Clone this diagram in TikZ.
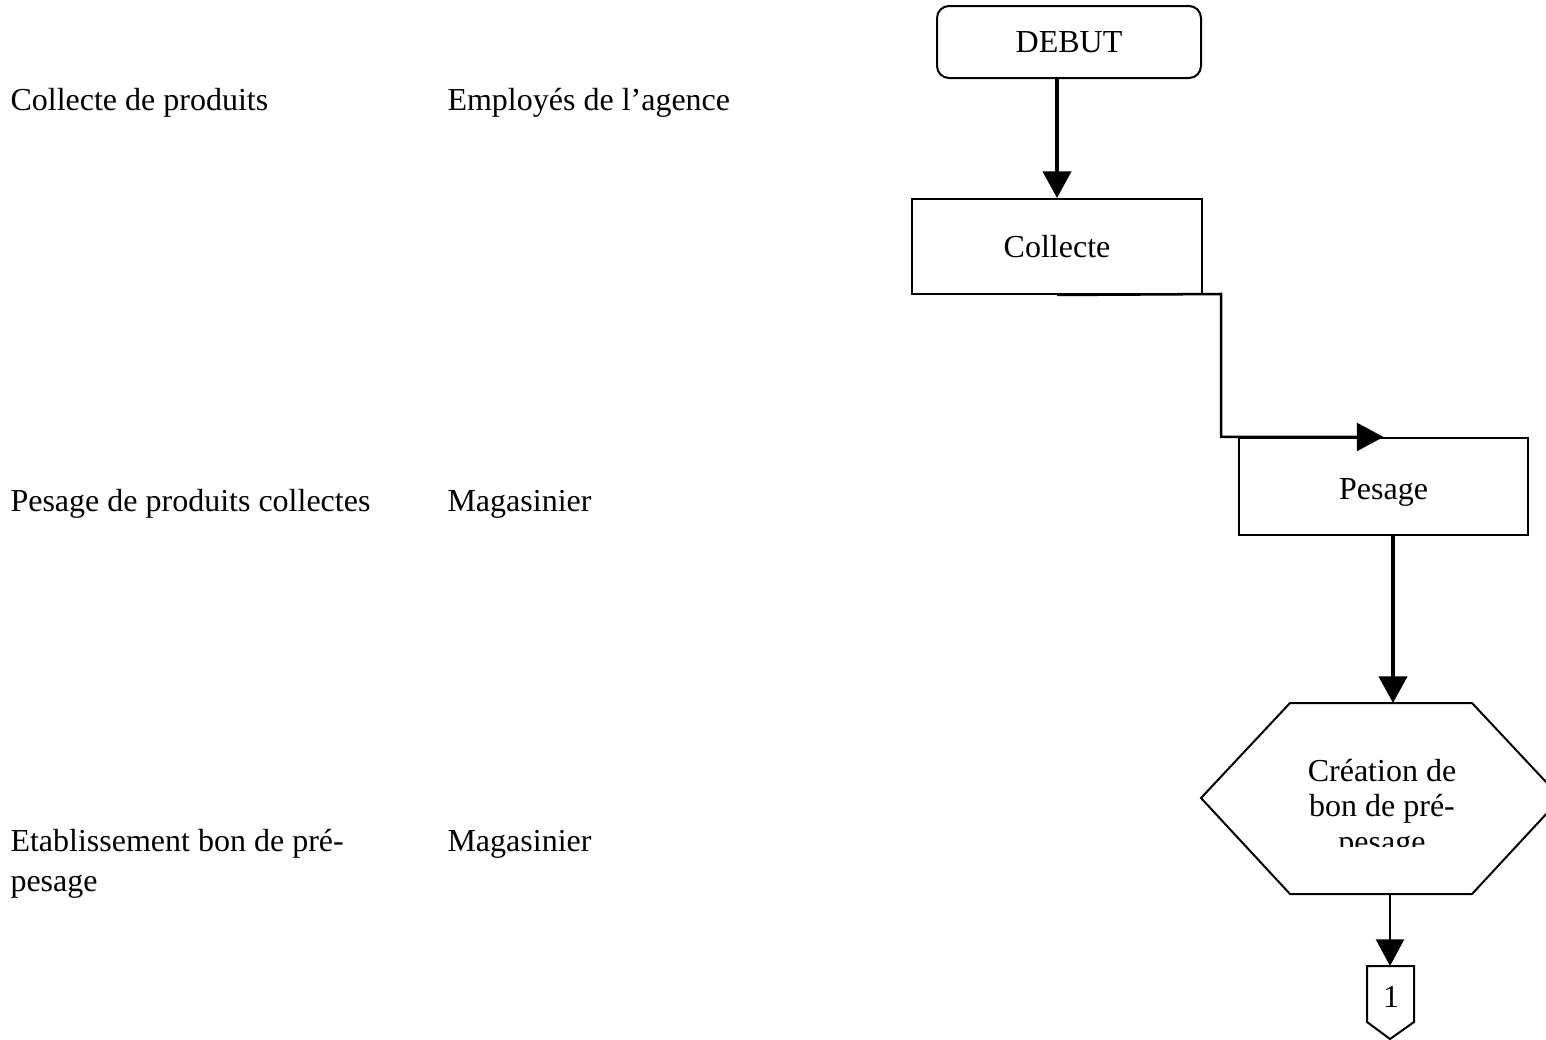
\documentclass[tikz,border=0pt]{standalone}
\usepackage{fontspec}
\setmainfont{Liberation Serif}
\usetikzlibrary{arrows.meta}
\begin{document}
\begin{tikzpicture}[x=0.375pt,y=-0.375pt,
  txt/.style={font=\fontsize{12}{13.2}\selectfont},
  box/.style={draw, line width=0.75pt, inner sep=0pt, txt},
  lbl/.style={anchor=base west, inner sep=0pt, txt},
  arrthick/.style={-{Triangle[length=10pt,width=10.5pt]}, line width=1.6pt},
  arrthin/.style={-{Triangle[length=10pt,width=10.5pt]}, line width=0.95pt},
  shapeline/.style={line width=0.75pt, line join=miter}]
\useasboundingbox (0,0) rectangle (1546,1039);
\clip (0,0) rectangle (1546,1039);

% left column texts
\node[lbl] (t1) at (10,110) {Collecte de produits};
\node[lbl] (r1) at (447,110) {Employés de l’agence};
\node[lbl] (t2) at (10,511) {Pesage de produits collectes};
\node[lbl] (r2) at (447,511) {Magasinier};
\node[lbl] (t3) at (10,851) {Etablissement bon de pré-};
\node[lbl] (t3b) at (10,891) {pesage};
\node[lbl] (r3) at (447,851) {Magasinier};

% flowchart boxes
\node[box, rounded corners=4.5pt, minimum width=99pt, minimum height=27pt] (debut) at (1069,42) {DEBUT};
\node[box, minimum width=108.4pt, minimum height=35.6pt] (collecte) at (1057,246.5) {Collecte};
\node[box, minimum width=108.4pt, minimum height=36.4pt] (pesage) at (1383.5,486.5) {};
\node[txt, inner sep=0pt, anchor=base] (pesagetxt) at (1383.5,499) {Pesage};

% hexagon
\coordinate (hL) at (1201,798);
\coordinate (hTL) at (1290,703);
\coordinate (hTR) at (1472,703);
\coordinate (hR) at (1561,798);
\coordinate (hBR) at (1472,894);
\coordinate (hBL) at (1290,894);
\coordinate (hTop) at (1393,703);
\coordinate (hBot) at (1390,894);
\draw[shapeline] (hL) -- (hTL) -- (hTR) -- (hR) -- (hBR) -- (hBL) -- cycle;
\begin{scope}
\clip (1200,700) rectangle (1546,846);
\node[txt, align=center, inner sep=0pt, anchor=base] (creation) at (1382,852)
  {Création de\\bon de pré-\\pesage};
\end{scope}

% off-page connector
\coordinate (oTL) at (1367,966);
\coordinate (oTR) at (1414,966);
\coordinate (oRS) at (1414,1022);
\coordinate (oB) at (1390,1039);
\coordinate (oLS) at (1367,1022);
\coordinate (oTop) at (1390,966);
\draw[shapeline] (oTL) -- (oTR) -- (oRS) -- (oB) -- (oLS) -- cycle;
\node[txt, inner sep=0pt] (one) at (1391,997) {1};

% connectors
\draw[arrthick] (debut.south -| collecte.north) -- (collecte.north);
\coordinate (bend) at (1221,294);
\draw[arrthin] (collecte.south) -- (bend) |- (pesage.north);
\draw[arrthick] (pesage.south -| hTop) -- (hTop);
\draw[arrthin] (hBot) -- (oTop);
\end{tikzpicture}
\end{document}
